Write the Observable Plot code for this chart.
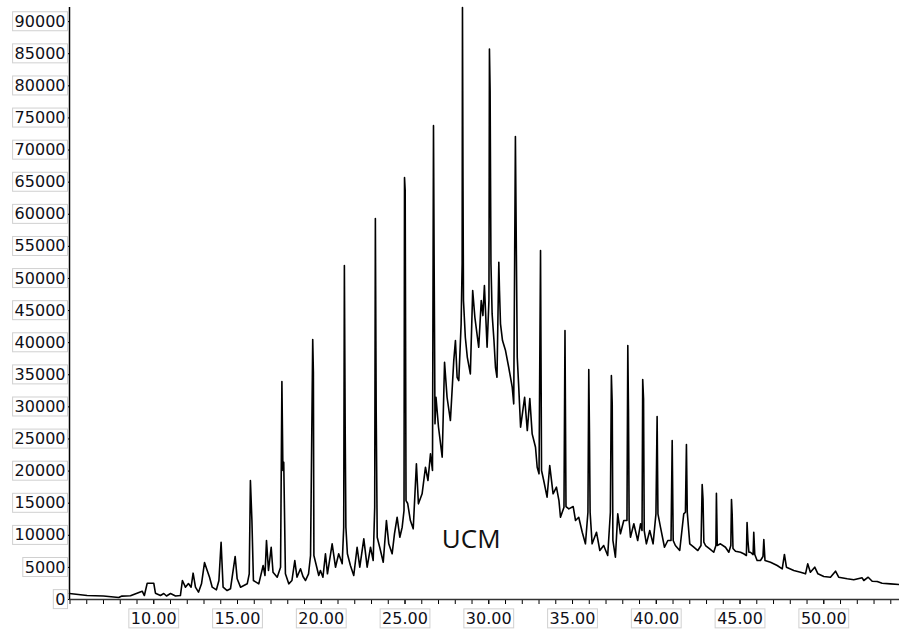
<!DOCTYPE html>
<html>
<head>
<meta charset="utf-8">
<script src="https://cdn.jsdelivr.net/npm/d3@7"></script>
<script src="https://cdn.jsdelivr.net/npm/@observablehq/plot@0.6"></script>
<style>
  html, body { margin: 0; padding: 0; background: #fff; }
  #chart { width: 899px; height: 631px; }
</style>
</head>
<body>
<div id="chart"></div>
<script>
// Retention time (min)
const time = [
  4.97, 6.02, 7.00, 7.91, 8.10, 8.61, 9.31, 9.44, 9.61, 10.00,
  10.10, 10.40, 10.60, 10.76, 11.00, 11.30, 11.59, 11.71, 11.89, 12.07,
  12.23, 12.35, 12.49, 12.67, 12.85, 13.03, 13.19, 13.33, 13.49, 13.74,
  13.89, 14.02, 14.14, 14.38, 14.58, 14.86, 14.98, 15.18, 15.58, 15.70,
  15.77, 15.86, 15.95, 16.27, 16.53, 16.64, 16.73, 16.85, 17.01, 17.12,
  17.37, 17.57, 17.65, 17.71, 17.76, 17.86, 18.06, 18.25, 18.42, 18.55,
  18.76, 18.91, 19.06, 19.24, 19.36, 19.49, 19.53, 19.56, 19.85, 19.95,
  20.10, 20.25, 20.37, 20.65, 20.85, 21.04, 21.25, 21.34, 21.38, 21.43,
  21.47, 21.56, 21.74, 21.94, 22.14, 22.30, 22.54, 22.74, 22.94, 23.10,
  23.19, 23.23, 23.28, 23.34, 23.49, 23.70, 23.89, 24.03, 24.23, 24.37,
  24.53, 24.69, 24.83, 24.94, 24.97, 25.01, 25.06, 25.16, 25.32, 25.49,
  25.68, 25.80, 26.02, 26.22, 26.37, 26.52, 26.64, 26.70, 26.74, 26.79,
  26.85, 27.00, 27.22, 27.36, 27.51, 27.71, 27.91, 28.01, 28.11, 28.21,
  28.35, 28.41, 28.43, 28.46, 28.49, 28.60, 28.72, 28.90, 29.04, 29.17,
  29.40, 29.55, 29.65, 29.74, 29.90, 30.01, 30.04, 30.08, 30.13, 30.20,
  30.31, 30.40, 30.49, 30.60, 30.64, 30.70, 30.82, 31.00, 31.19, 31.40,
  31.49, 31.56, 31.59, 31.70, 31.78, 31.90, 32.14, 32.30, 32.45, 32.59,
  32.69, 32.79, 32.89, 33.00, 33.09, 33.15, 33.28, 33.48, 33.64, 33.84,
  34.04, 34.19, 34.28, 34.49, 34.55, 34.61, 34.78, 35.04, 35.18, 35.37,
  35.58, 35.77, 35.92, 35.97, 36.01, 36.05, 36.17, 36.43, 36.63, 36.86,
  37.10, 37.26, 37.32, 37.37, 37.41, 37.56, 37.70, 37.86, 38.06, 38.25,
  38.30, 38.34, 38.38, 38.46, 38.66, 38.89, 39.06, 39.15, 39.19, 39.24,
  39.28, 39.41, 39.61, 39.81, 39.98, 40.05, 40.10, 40.25, 40.49, 40.69,
  40.88, 40.95, 41.01, 41.14, 41.40, 41.64, 41.74, 41.80, 41.85, 42.00,
  42.24, 42.48, 42.67, 42.74, 42.79, 42.84, 42.94, 43.19, 43.43, 43.56,
  43.59, 43.64, 43.83, 44.13, 44.33, 44.45, 44.49, 44.53, 44.58, 44.73,
  45.03, 45.22, 45.38, 45.42, 45.47, 45.53, 45.62, 45.78, 45.82, 45.88,
  46.02, 46.22, 46.37, 46.42, 46.49, 46.82, 47.22, 47.52, 47.65, 47.77,
  48.21, 48.61, 48.91, 49.04, 49.20, 49.46, 49.65, 50.00, 50.40, 50.70,
  50.89, 51.40, 51.79, 52.29, 52.39, 52.65, 52.89, 53.19, 53.48, 53.98,
  54.52
];
// Abundance
const signal = [
  930, 620, 550, 300, 530, 580, 1290, 620, 2540, 2540,
  980, 620, 930, 550, 930, 550, 620, 2960, 1920, 2490,
  1920, 4100, 1920, 1140, 2440, 5760, 4520, 3470, 1920, 1510,
  2960, 8920, 1920, 1400, 1670, 6700, 3220, 1920, 2440, 4000,
  18530, 12300, 2960, 2440, 5290, 3740, 9190, 4520, 8140, 4250,
  3470, 5030, 33940, 20090, 21380, 4000, 2440, 2960, 6070, 3470,
  4780, 3580, 2960, 4000, 6850, 40480, 35400, 6850, 3740, 4520,
  3470, 7120, 4000, 8670, 5030, 7120, 5560, 11260, 52000, 25850,
  11260, 7120, 5290, 3740, 8140, 5030, 9450, 5030, 8140, 6070,
  14370, 59320, 29160, 9700, 8140, 5810, 12300, 8670, 7120, 10230,
  12810, 9700, 11260, 13860, 65700, 63680, 15410, 14950, 12300, 11010,
  21130, 14900, 16460, 20600, 18530, 22690, 20090, 73800, 51740, 27360,
  31500, 26830, 22160, 36950, 31500, 27870, 37210, 40330, 34610, 34100,
  42930, 52320, 92200, 65750, 46560, 40840, 37720, 35140, 48110, 43950,
  39280, 46550, 44220, 48890, 39280, 46550, 85740, 79250, 52320, 44480,
  40330, 36170, 34610, 52520, 48110, 42930, 40330, 38770, 36170, 33060,
  30470, 59320, 72090, 37730, 33580, 26830, 31500, 26310, 31300, 25800,
  24760, 23710, 20600, 19570, 54340, 20090, 18530, 15930, 20860, 16460,
  17490, 15410, 12810, 14370, 41880, 14480, 14120, 14480, 12300, 12810,
  10480, 8670, 13590, 35810, 26310, 13590, 8670, 10480, 7630, 8410,
  6850, 13590, 34880, 30520, 9190, 6590, 13340, 10230, 12300, 12300,
  39550, 29690, 12300, 9700, 11790, 9190, 11790, 10740, 34250, 31250,
  10740, 8670, 10740, 8670, 13340, 28490, 13340, 11260, 8140, 9190,
  9190, 24760, 9190, 8410, 7630, 13340, 13590, 24130, 13590, 8670,
  8140, 7630, 8410, 17900, 15680, 8920, 8410, 7890, 7360, 8410,
  16550, 8410, 8670, 8140, 7360, 8410, 15570, 13340, 7940, 7520,
  7360, 7120, 6850, 11990, 9190, 7360, 7360, 7000, 10480, 7000,
  6070, 6070, 6700, 9340, 6070, 5810, 5290, 4780, 7010, 5030,
  4520, 4250, 4000, 5560, 4250, 5030, 4000, 3580, 3470, 4410,
  3470, 3220, 3070, 3380, 2960, 3470, 2850, 2800, 2540, 2440,
  2340
];

const xDomain = [4.97, 54.52];
const yDomain = [0, 92200];

const xTickValues = [10, 15, 20, 25, 30, 35, 40, 45, 50];
const xTickLabels = ["10.00", "15.00", "20.00", "25.00", "30.00", "35.00", "40.00", "45.00", "50.00"];
const xMinorTicks = [5, 6, 7, 8, 9, 10, 11, 12, 13, 14, 15, 16, 17, 18, 19, 20, 21, 22, 23, 24, 25, 26, 27, 28, 29,
  30, 31, 32, 33, 34, 35, 36, 37, 38, 39, 40, 41, 42, 43, 44, 45, 46, 47, 48, 49, 50, 51, 52, 53, 54];

const yTickValues = [0, 5000, 10000, 15000, 20000, 25000, 30000, 35000, 40000, 45000,
  50000, 55000, 60000, 65000, 70000, 75000, 80000, 85000, 90000];
const yTickLabels = ["0", "5000", "10000", "15000", "20000", "25000", "30000", "35000", "40000", "45000",
  "50000", "55000", "60000", "65000", "70000", "75000", "80000", "85000", "90000"];

const annotationText = ["UCM"];
const annotationTime = [28.95];
const annotationValue = [9300];

const rows = time.map((t, i) => ({t, v: signal[i]}));
const notes = annotationText.map((s, i) => ({label: s, t: annotationTime[i], v: annotationValue[i]}));

const chart = Plot.plot({
  width: 899,
  height: 631,
  marginLeft: 69,
  marginRight: 0,
  marginTop: 7,
  marginBottom: 32,
  x: {domain: xDomain, label: null},
  y: {domain: yDomain, label: null},
  style: {fontFamily: "DejaVu Sans", fontSize: "16px", color: "#000", background: "#fff"},
  marks: [
    Plot.axisY(yTickValues, {tickSize: 2, tickPadding: 2, label: null, fill: "#101018",
      tickFormat: d => yTickLabels[yTickValues.indexOf(d)]}),
    Plot.axisX(xMinorTicks, {tickSize: 5, label: null, tickFormat: () => ""}),
    Plot.axisX(xTickValues, {tickSize: 5, tickPadding: 8, label: null, fill: "#101018",
      tickFormat: d => xTickLabels[xTickValues.indexOf(d)]}),
    Plot.ruleY([yDomain[0]], {stroke: "#333", strokeWidth: 1.5}),
    Plot.ruleX([xDomain[0]], {stroke: "#000", strokeWidth: 1.5}),
    Plot.line(rows, {x: "t", y: "v", stroke: "#000", strokeWidth: 1.6, curve: "linear"}),
    Plot.text(notes, {x: "t", y: "v", text: "label", fontFamily: "Open Sans", fontSize: 26, fill: "#111"})
  ]
});

document.getElementById("chart").appendChild(chart);

// boxed tick labels, as in the instrument software
chart.querySelectorAll('g[aria-label$="tick label"] text').forEach(t => {
  if (!t.textContent.trim()) return;
  const b = t.getBBox();
  const r = document.createElementNS("http://www.w3.org/2000/svg", "rect");
  r.setAttribute("x", b.x - 2);
  r.setAttribute("y", b.y);
  r.setAttribute("width", b.width + 4);
  r.setAttribute("height", b.height);
  r.setAttribute("fill", "#fff");
  r.setAttribute("stroke", "#d0d0d0");
  r.setAttribute("stroke-width", 1);
  const tr = t.getAttribute("transform");
  if (tr) r.setAttribute("transform", tr);
  t.parentNode.insertBefore(r, t);
});
</script>
</body>
</html>
